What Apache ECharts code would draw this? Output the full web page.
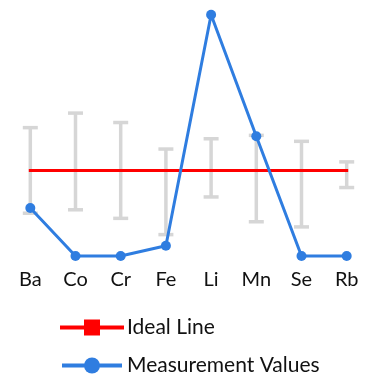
<!DOCTYPE html>
<html>
<head>
<meta charset="utf-8">
<script src="https://cdn.jsdelivr.net/npm/echarts@6/dist/echarts.min.js"></script>
<style>html,body{margin:0;padding:0;background:#fff}#c{width:374px;height:374px}</style>
</head>
<body>
<div id="c"></div>
<script>
const categories = ['Ba', 'Co', 'Cr', 'Fe', 'Li', 'Mn', 'Se', 'Rb'];
const idealValues = [100, 100, 100, 100, 100, 100, 100, 100];
const measurementValues = [56, 0, 0, 12, 282, 140, 0, 0];
const errorLow = [50, 54, 44, 25, 69, 40, 34, 80];
const errorHigh = [150, 167, 156, 125, 137, 141, 134, 110];

const errorData = categories.map((c, i) => [i, errorLow[i], errorHigh[i]]);

const chart = echarts.init(document.getElementById('c'));
chart.setOption({
  animation: false,
  textStyle: { fontFamily: 'Lato' },
  grid: { left: 30.3, right: 27.3, top: 14.7, bottom: 118 },
  xAxis: {
    type: 'category',
    data: categories,
    boundaryGap: false,
    axisLine: { show: false },
    axisTick: { show: false },
    splitLine: { show: false },
    axisLabel: { color: '#111', fontSize: 20, margin: 14, fontFamily: 'Lato' }
  },
  yAxis: {
    type: 'value',
    min: 0,
    max: 282,
    show: false
  },
  legend: {
    orient: 'vertical',
    left: 55,
    top: 312,
    width: 319,
    height: 100,
    itemWidth: 60,
    itemHeight: 20,
    itemGap: 17,
    lineStyle: { width: 4 },
    textStyle: { fontSize: 21, color: '#111', fontFamily: 'Lato' },
    data: ['Ideal Line', 'Measurement Values']
  },
  series: [
    {
      name: 'Error',
      type: 'custom',
      data: errorData,
      z: 1,
      renderItem: function (params, api) {
        const x = api.value(0);
        const lo = api.coord([x, api.value(1)]);
        const hi = api.coord([x, api.value(2)]);
        const hw = 7.5;
        const style = { stroke: '#d6d6d6', lineWidth: 3.5, fill: null };
        return {
          type: 'group',
          children: [
            { type: 'line', shape: { x1: lo[0], y1: lo[1], x2: hi[0], y2: hi[1] }, style: style },
            { type: 'line', shape: { x1: hi[0] - hw, y1: hi[1], x2: hi[0] + hw, y2: hi[1] }, style: style },
            { type: 'line', shape: { x1: lo[0] - hw, y1: lo[1], x2: lo[0] + hw, y2: lo[1] }, style: style }
          ]
        };
      }
    },
    {
      name: 'Ideal Line',
      type: 'line',
      data: idealValues,
      symbol: 'rect',
      showSymbol: false,
      z: 2,
      clip: false,
      itemStyle: { color: '#ff0000' },
      lineStyle: { color: '#ff0000', width: 3, cap: 'square' }
    },
    {
      name: 'Measurement Values',
      type: 'line',
      data: measurementValues,
      symbol: 'circle',
      symbolSize: 10,
      z: 3,
      clip: false,
      itemStyle: { color: '#2f7de0' },
      lineStyle: { color: '#2f7de0', width: 3 }
    }
  ]
});
</script>
</body>
</html>
